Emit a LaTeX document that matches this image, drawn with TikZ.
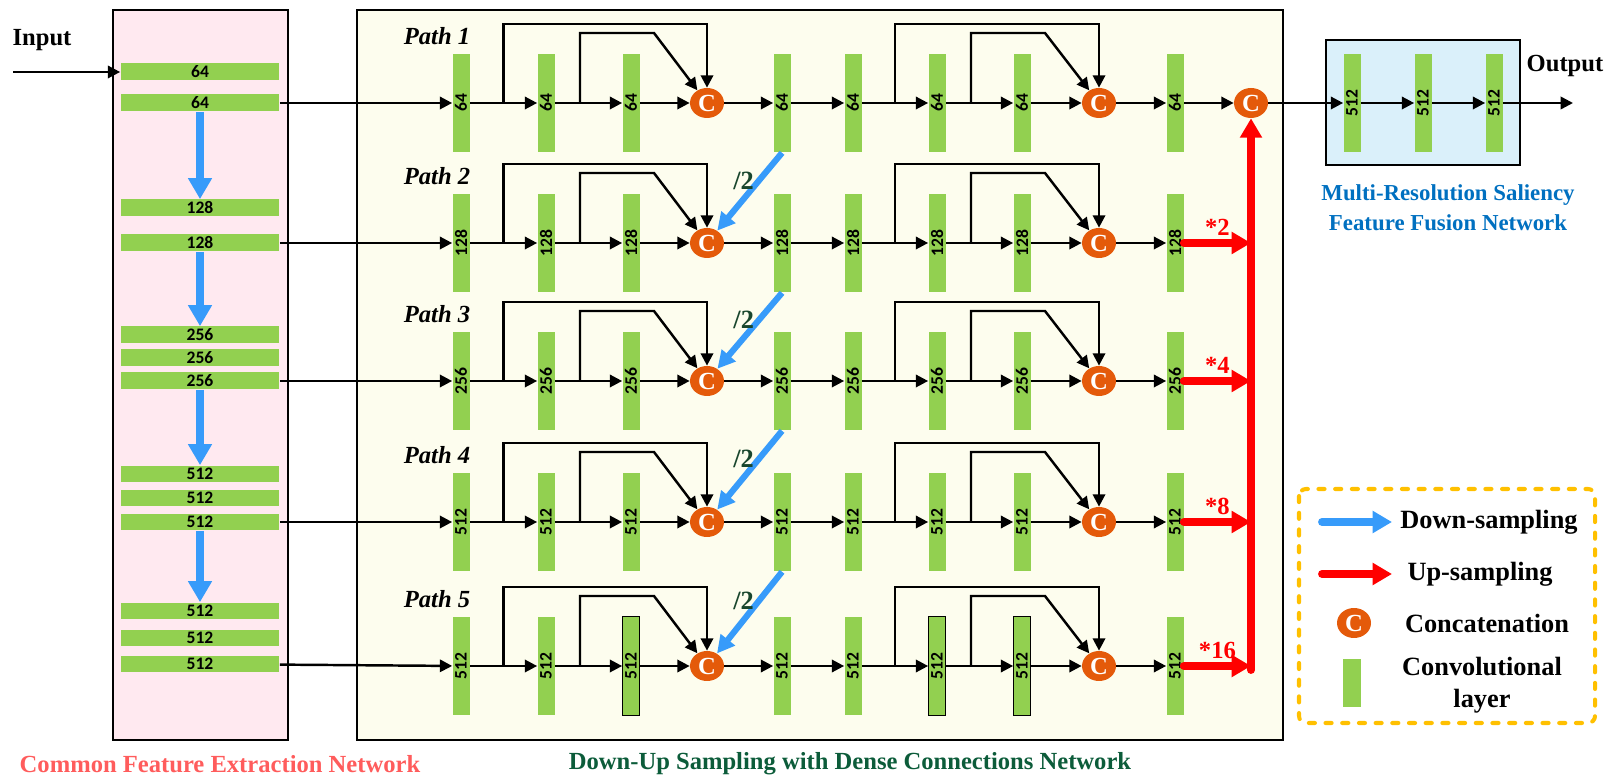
\documentclass[tikz,border=0pt]{standalone}
\usepackage{fontspec}
\usepackage{graphicx}
\setmainfont{Liberation Serif}
\newfontfamily\barfont{Carlito}
\usetikzlibrary{arrows.meta, calc, shapes.geometric}

\definecolor{convgreen}{RGB}{146,208,80}
\definecolor{pinkbg}{RGB}{255,233,240}
\definecolor{yellowbg}{RGB}{253,253,238}
\definecolor{bluebg}{RGB}{218,240,250}
\definecolor{corange}{RGB}{228,90,10}
\definecolor{arrowblue}{RGB}{55,155,250}
\definecolor{legorange}{RGB}{255,192,0}
\definecolor{pinktitle}{RGB}{255,92,92}
\definecolor{greentitle}{RGB}{12,92,58}
\definecolor{bluetitle}{RGB}{0,112,192}
\definecolor{slashgreen}{RGB}{25,70,45}

\tikzset{
  conv/.style={fill=convgreen, minimum width=0.34cm, minimum height=1.98cm,
    inner sep=0pt, font=\barfont\bfseries\fontsize{10}{10}\selectfont},
  convh/.style={fill=convgreen, minimum width=3.18cm, minimum height=0.34cm,
    inner sep=0pt, font=\barfont\bfseries\fontsize{10}{10}\selectfont},
  concat/.style={ellipse, fill=corange, minimum width=0.68cm, minimum height=0.6cm,
    inner sep=0pt, text=white, font=\bfseries\fontsize{14}{14}\selectfont},
  flow/.style={line width=1.4pt, -{Triangle[length=7pt,width=7pt]}},
  downarrow/.style={draw=arrowblue, line width=4.5pt, -{Triangle[length=12pt,width=13pt]}},
  diagarrow/.style={draw=arrowblue, line width=3.5pt, -{Triangle[length=10pt,width=10pt]}},
  uparrow/.style={draw=red, line width=4.5pt, line cap=round, -{Triangle[length=11pt,width=12pt]}},
  pathlabel/.style={font=\bfseries\itshape\fontsize{14}{14}\selectfont},
  title/.style={font=\bfseries\fontsize{14}{16}\selectfont},
  legtext/.style={font=\bfseries\fontsize{15}{18}\selectfont, align=center},
  legbox/.style={draw=legorange, line width=2.3pt, dash pattern=on 3.5pt off 6pt,
    line cap=round, rounded corners=4pt},
  legarrow/.style={line width=4.5pt, line cap=round, -{Triangle[length=11pt,width=12pt]}},
}

\begin{document}
\begin{tikzpicture}[x=0.02cm, y=-0.02cm]
  \useasboundingbox (0,0) rectangle (1609,783);

  % Panels
  \draw[line width=1.1pt, fill=pinkbg] (113,10) rectangle (288,740); % common features
  \draw[line width=1.1pt, fill=yellowbg] (357,10) rectangle (1283,740); % down-up paths
  \draw[line width=1.1pt, fill=bluebg] (1326,40) rectangle (1520,165); % fusion

  % Common feature extraction layers
  \foreach \y/\nm/\t in {72/f1-1/64, 103/f1-2/64, 208/f2-1/128, 243/f2-2/128,
      335/f3-1/256, 358/f3-2/256, 381/f3-3/256, 474/f4-1/512, 498/f4-2/512,
      522/f4-3/512, 611/f5-1/512, 638/f5-2/512, 664/f5-3/512}
    \node[convh] (\nm) at (200,\y) {\t};

  \foreach \a/\b in {f1-2/f2-1, f2-2/f3-1, f3-3/f4-1, f4-3/f5-1}
    \draw[downarrow] (\a) -- (\b);

  % Input
  \node[title] (input) at (42,40) {Input};
  \coordinate (inpt) at (13,72);
  \draw[flow] (inpt) -- (f1-1);

  % Paths with dense connections
  \foreach \y/\n/\src [count=\i] in {103/64/f1-2, 243/128/f2-2, 381/256/f3-3,
      522/512/f4-3, 666/512/f5-3} {
    \foreach \bx/\k in {461/1, 546/2, 631/3, 782/4, 853/5, 937/6, 1022/7, 1175/8}
      \node[conv] (r\i-b\k) at (\bx,\y) {\rotatebox{90}{\n}};
    \node[concat] (r\i-c1) at (707,\y) {C};
    \node[concat] (r\i-c2) at (1099,\y) {C};
    \node[pathlabel] (path\i) at (437,\y-67) {Path \i};

    % main flow
    \draw[flow] (\src) -- (r\i-b1);
    \draw[flow] (r\i-b1) -- (r\i-b2);
    \draw[flow] (r\i-b2) -- (r\i-b3);
    \draw[flow] (r\i-b3) -- (r\i-c1);
    \draw[flow] (r\i-c1) -- (r\i-b4);
    \draw[flow] (r\i-b4) -- (r\i-b5);
    \draw[flow] (r\i-b5) -- (r\i-b6);
    \draw[flow] (r\i-b6) -- (r\i-b7);
    \draw[flow] (r\i-b7) -- (r\i-c2);
    \draw[flow] (r\i-c2) -- (r\i-b8);

    % dense connections
    \draw[flow] ($(r\i-b1)!0.5!(r\i-b2)$) -- ++(0,-79) -| (r\i-c1);
    \draw[flow] ($(r\i-b2)!0.4!(r\i-b3)$) -- ++(0,-70) -- ++(74,0) -- (r\i-c1);
    \draw[flow] ($(r\i-b5)!0.5!(r\i-b6)$) -- ++(0,-79) -| (r\i-c2);
    \draw[flow] ($(r\i-b6)!0.4!(r\i-b7)$) -- ++(0,-70) -- ++(74,0) -- (r\i-c2);
  }

  % outlined layers in path 5
  \foreach \k in {3,6,7}
    \draw[line width=0.5pt] (r5-b\k.south west) rectangle (r5-b\k.north east);

  % Down-sampling between paths
  \foreach \i/\j in {1/2, 2/3, 3/4, 4/5}
    \draw[diagarrow] (r\i-b4.south) -- (r\j-c1)
      node[pos=0.36, left=0pt, inner sep=1pt, text=slashgreen,
        font=\bfseries\fontsize{15}{15}\selectfont] (half\j) {/2};

  % Up-sampling into final concatenation
  \node[concat] (cfin) at (1251,103) {C};
  \coordinate (upx) at (1251,0);
  \coordinate (upbot) at (1251,670);
  \draw[uparrow] (upbot) -- (cfin);
  \foreach \i/\m in {2/2, 3/4, 4/8, 5/16}
    \draw[uparrow] (r\i-b8) -- (r\i-b8 -| upx)
      node[midway, above=1pt, inner sep=1pt, text=red, title] (times\i) {*\m};
  \draw[flow] (r1-b8) -- (cfin);

  % Fusion network
  \foreach \bx/\k in {1352/1, 1423/2, 1494/3}
    \node[conv] (fb\k) at (\bx,103) {\rotatebox{90}{512}};
  \draw[flow] (cfin) -- (fb1);
  \draw[flow] (fb1) -- (fb2);
  \draw[flow] (fb2) -- (fb3);
  \coordinate (outpt) at (1573,103);
  \draw[flow] (fb3) -- (outpt);
  \node[title] (output) at (1565,66) {Output};

  % Titles
  \node[title, text=pinktitle] (cfen) at (220,764) {Common Feature Extraction Network};
  \node[title, text=greentitle] (dusn) at (850,764) {Down-Up Sampling with Dense Connections Network};
  \node[title, text=bluetitle, align=center, font=\bfseries\fontsize{13}{17}\selectfont]
    (mrsf) at (1448,208) {Multi-Resolution Saliency\\Feature Fusion Network};

  % Legend
  \draw[legbox] (1299,489) rectangle (1595,723);
  \coordinate (ld1) at (1322,522);
  \coordinate (ld2) at (1392,522);
  \draw[legarrow, draw=arrowblue] (ld1) -- (ld2);
  \node[legtext] (ldown) at (1489,522) {Down-sampling};
  \coordinate (lu1) at (1322,574);
  \coordinate (lu2) at (1392,574);
  \draw[legarrow, draw=red] (lu1) -- (lu2);
  \node[legtext] (lup) at (1480,574) {Up-sampling};
  \node[concat] (lcat) at (1354,623) {C};
  \node[legtext] (lcattext) at (1487,623) {Concatenation};
  \node[fill=convgreen, minimum width=0.36cm, minimum height=0.96cm, inner sep=0pt]
    (lconv) at (1352,683) {};
  \node[legtext] (lconvtext) at (1482,685) {Convolutional\\layer};

\end{tikzpicture}
\end{document}
